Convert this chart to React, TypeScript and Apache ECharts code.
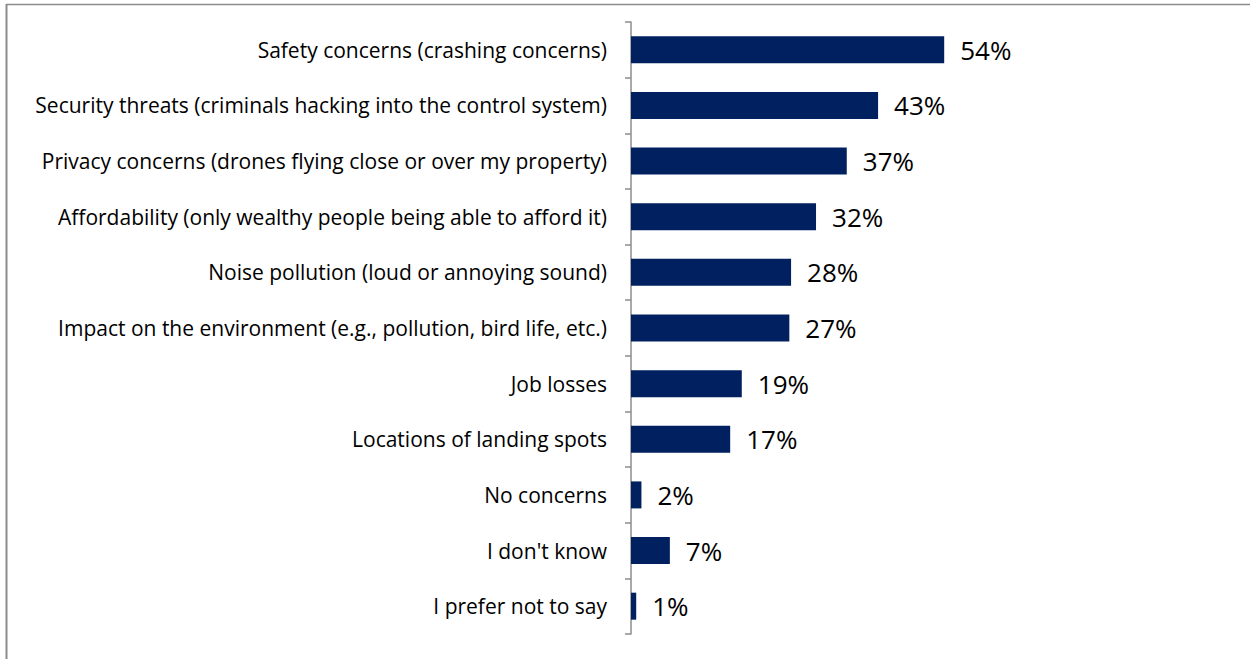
import React, { useEffect, useRef } from "react";
import * as echarts from "echarts";

const categories = [
  "Safety concerns (crashing concerns)",
  "Security threats (criminals hacking into the control system)",
  "Privacy concerns (drones flying close or over my property)",
  "Affordability (only wealthy people being able to afford it)",
  "Noise pollution (loud or annoying sound)",
  "Impact on the environment (e.g., pollution, bird life, etc.)",
  "Job losses",
  "Locations of landing spots",
  "No concerns",
  "I don't know",
  "I prefer not to say",
];
const values = [54, 42.6, 37.2, 31.9, 27.6, 27.3, 19.1, 17.1, 1.8, 6.7, 0.9];
const valueLabels = ["54%", "43%", "37%", "32%", "28%", "27%", "19%", "17%", "2%", "7%", "1%"];

export default function App() {
  const ref = useRef<HTMLDivElement>(null);
  useEffect(() => {
    const chart = echarts.init(ref.current!, null, { renderer: "svg" });
    chart.setOption({
      animation: false,
      backgroundColor: "#ffffff",
      grid: { left: 631, right: 39, top: 22, bottom: 25, containLabel: false },
      xAxis: { type: "value", min: 0, max: 100, show: false },
      yAxis: {
        type: "category",
        inverse: true,
        data: categories,
        axisLine: { show: true, lineStyle: { color: "#8c8c8c", width: 1.5 } },
        axisTick: { show: true, length: 6, alignWithLabel: false, lineStyle: { color: "#8c8c8c", width: 1.5 } },
        axisLabel: { margin: 24, color: "#000000", fontSize: 21, fontFamily: "Open Sans" },
        splitLine: { show: false },
      },
      series: [
        {
          type: "bar",
          data: values,
          barWidth: 27,
          itemStyle: { color: "#002060" },
          label: {
            show: true,
            position: "right",
            distance: 16,
            color: "#000000",
            fontSize: 26,
            fontFamily: "Open Sans",
            formatter: (p: any) => valueLabels[p.dataIndex],
          },
        },
      ],
      graphic: [
        { type: "line", shape: { x1: 6, y1: 4.5, x2: 1250, y2: 4.5 }, style: { stroke: "#8c8c8c", lineWidth: 1.5 } },
        { type: "line", shape: { x1: 6.5, y1: 4, x2: 6.5, y2: 659 }, style: { stroke: "#8c8c8c", lineWidth: 2 } },
      ],
    });
    return () => chart.dispose();
  }, []);
  return <div ref={ref} style={{ position: "fixed", left: 0, top: 0, width: 1250, height: 659 }} />;
}
